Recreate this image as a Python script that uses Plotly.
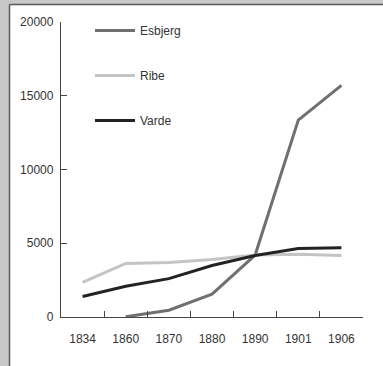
import plotly.graph_objects as go

years = ["1834", "1860", "1870", "1880", "1890", "1901", "1906"]
esbjerg = [None, 13, 460, 1550, 4200, 13350, 15700]
ribe = [2350, 3630, 3700, 3900, 4200, 4250, 4170]
varde = [1390, 2090, 2600, 3490, 4170, 4640, 4690]

series = [
    ("Esbjerg", esbjerg, "#707070"),
    ("Ribe", ribe, "#c4c4c4"),
    ("Varde", varde, "#232323"),
]

W, H = 383, 366
L, R, T, B = 61, 20, 22, 49
pw, ph = W - L - R, H - T - B

fig = go.Figure()
for name, vals, col in series:
    fig.add_trace(go.Scatter(
        x=years, y=vals, name=name, mode="lines",
        line=dict(color=col, width=3), legendgroup=name,
        connectgaps=False,
    ))

def px_x(p):
    return (p - L) / pw

def px_y(p):
    return (H - B - p) / ph

shapes = [
    dict(type="rect", xref="paper", yref="paper", layer="below",
         x0=px_x(-5), x1=px_x(W + 5), y0=px_y(H + 5), y1=px_y(-5),
         fillcolor="#c8c8c8", line=dict(width=0)),
    dict(type="rect", xref="paper", yref="paper", layer="below",
         x0=px_x(10), x1=px_x(W + 5), y0=px_y(H + 5), y1=px_y(5),
         fillcolor="white", line=dict(width=0)),
    dict(type="line", xref="paper", yref="paper", layer="below",
         x0=px_x(9.5), x1=px_x(9.5), y0=px_y(H + 5), y1=px_y(4.5),
         line=dict(color="#5a5a5a", width=1.5)),
    dict(type="line", xref="paper", yref="paper", layer="below",
         x0=px_x(9.5), x1=px_x(W + 5), y0=px_y(4.5), y1=px_y(4.5),
         line=dict(color="#5a5a5a", width=1.5)),
]

fig.update_layout(
    width=W, height=H,
    margin=dict(l=L, r=R, t=T, b=B, pad=0),
    paper_bgcolor="#c8c8c8",
    plot_bgcolor="white",
    font=dict(family="Liberation Sans, Arial, sans-serif", size=12, color="#333333"),
    shapes=shapes,
    showlegend=True,
    legend=dict(
        x=px_x(90), y=px_y(16), xanchor="left", yanchor="top",
        bgcolor="rgba(0,0,0,0)", traceorder="grouped",
        tracegroupgap=26, itemwidth=40,
        font=dict(size=12, color="#333333"),
    ),
    xaxis=dict(
        type="category", range=[-0.5, 6.5], tickson="boundaries",
        ticks="inside", ticklen=6, tickcolor="#444444", tickwidth=1.3,
        showline=True, linecolor="#444444", linewidth=1.3,
        showgrid=False, zeroline=False, ticklabelstandoff=10,
        tickfont=dict(size=12, color="#333333"),
    ),
    yaxis=dict(
        range=[0, 20000], tickvals=[0, 5000, 10000, 15000, 20000],
        ticks="inside", ticklen=6, tickcolor="#444444", tickwidth=1.3,
        showline=True, linecolor="#444444", linewidth=1.3,
        showgrid=False, zeroline=False, ticklabelstandoff=4,
        tickformat="d", tickfont=dict(size=12, color="#333333"),
    ),
)

fig.write_html(
    "out.html",
    config={"displayModeBar": False},
    post_script="document.body.style.margin='0';document.body.style.overflow='hidden';document.body.style.background='#c8c8c8';",
)
